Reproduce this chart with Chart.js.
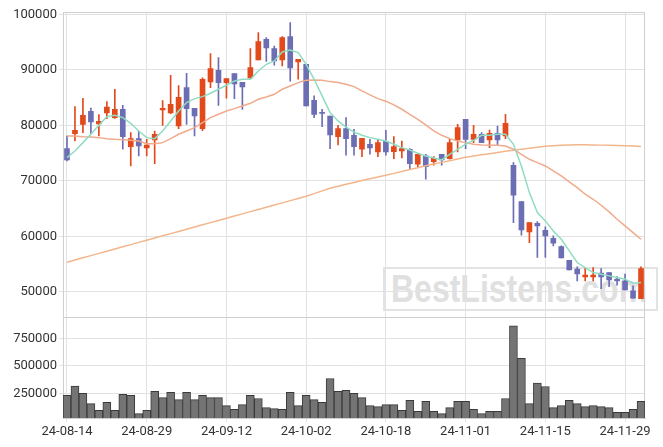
<!DOCTYPE html>
<html>
<head>
<meta charset="utf-8">
<script src="https://cdn.jsdelivr.net/npm/chart.js@4.4.0/dist/chart.umd.min.js"></script>
<style>
  html, body { margin: 0; padding: 0; background: #fff; }
  #wrap { position: relative; width: 663px; height: 447px; }
  #markBox {
    position: absolute; left: 383px; top: 267px; width: 271px; height: 40px;
    border: 2px solid #e3e3e3;
  }
  #markText {
    position: absolute; left: 391px; top: 275px; white-space: nowrap;
    font: bold 32px "Liberation Sans", Arial, sans-serif; line-height: 32px;
    color: #e0e0e0; transform: scaleY(1.22); transform-origin: 0 27px;
  }
  canvas { position: absolute; left: 0; top: 0; }
</style>
</head>
<body>
<div id="wrap">
  <div id="markBox"></div>
  <div id="markText">BestListens.com</div>
  <canvas id="myChart" width="663" height="447"></canvas>
</div>
<script>
// Trading days shown on the x axis
const dates = [
  '24-08-14','24-08-16','24-08-19','24-08-20','24-08-21','24-08-22','24-08-23','24-08-26','24-08-27','24-08-28',
  '24-08-29','24-08-30','24-09-02','24-09-03','24-09-04','24-09-05','24-09-06','24-09-09','24-09-10','24-09-11',
  '24-09-12','24-09-13','24-09-19','24-09-20','24-09-23','24-09-24','24-09-25','24-09-26','24-09-27','24-09-30',
  '24-10-02','24-10-04','24-10-07','24-10-08','24-10-10','24-10-11','24-10-14','24-10-15','24-10-16','24-10-17',
  '24-10-18','24-10-21','24-10-22','24-10-23','24-10-24','24-10-25','24-10-28','24-10-29','24-10-30','24-10-31',
  '24-11-01','24-11-04','24-11-05','24-11-06','24-11-07','24-11-08','24-11-11','24-11-12','24-11-13','24-11-14',
  '24-11-15','24-11-18','24-11-19','24-11-20','24-11-21','24-11-22','24-11-25','24-11-26','24-11-27','24-11-28',
  '24-11-29','24-12-02','24-12-03'
];

// y axis ticks
const priceTicks = [50000, 60000, 70000, 80000, 90000, 100000];
const volumeTicks = [250000, 500000, 750000];

// OHLC
const openPrices = [
  75810,78510,80190,82530,80250,82230,81390,82890,76170,77610,
  75930,77370,82770,82230,79890,86800,83070,79410,87820,89920,
  87700,89320,87760,88540,91780,95500,93820,91780,95980,91420,
  91000,84520,82290,81690,77970,79410,78210,75690,76590,75210,
  77130,75270,75390,75690,72990,74490,73470,74790,74010,77370,
  81090,77490,78390,77370,78570,78090,72810,66270,60810,62370,
  61110,59670,58170,55710,54090,52710,52710,53370,53490,52290,
  51990,50180,48800
];
const highPrices = [
  78090,83370,84880,83130,81930,84270,86500,83610,78690,78990,
  77490,78990,84460,89020,87160,89380,83070,88540,92920,92200,
  88420,89320,87760,93820,96700,95800,94300,95980,98500,91900,
  91000,85300,82890,81690,80010,81390,79290,77670,77490,77490,
  79110,77970,77190,75810,74790,74790,74370,74790,77490,80190,
  81090,80010,78690,79170,79890,81990,73290,66270,62490,62670,
  61710,60090,58290,55710,54510,54390,54390,54210,53490,52770,
  53190,51080,54510
];
const lowPrices = [
  73590,77190,78690,78570,78090,81210,81270,75690,72690,74490,
  74490,73110,80010,82110,79410,80190,78090,79050,86800,83610,
  84880,84820,82890,88420,91780,91540,90820,90700,87940,88300,
  83490,81390,79770,75810,76470,74610,74610,74370,74790,74370,
  74610,74010,74130,72090,72570,70290,72810,72810,73890,75210,
  75810,76890,76890,75990,76410,77610,62490,60210,58890,56190,
  56190,58290,56130,53970,51990,51990,51990,50600,50960,51200,
  50360,48860,48800
];
const closePrices = [
  73770,79110,81810,80610,80730,83310,82890,77970,77610,76290,
  76470,78390,83070,83790,85060,83010,81690,88300,90220,87700,
  88420,87460,86920,90400,95080,93940,91600,95800,90340,91900,
  83490,81990,82170,78270,79410,77610,76170,77670,75930,76890,
  75210,76170,75810,73110,74790,72570,74070,73770,76890,79590,
  77490,78390,76890,78570,77370,80370,67410,61170,62490,61890,
  60090,58770,56130,53970,53250,53010,53010,52710,52170,51990,
  50360,48860,54210
];

// moving averages as plotted
const ma5 = [
  74190,75390,76890,78390,80010,81570,81810,81390,80370,78990,
  77790,77610,78990,80790,82590,84100,84820,85180,85780,86500,
  87220,88000,88300,88300,89800,91000,91600,93220,93580,93100,
  91000,88300,85300,82300,80800,79700,78800,78210,77790,77490,
  77190,76590,75990,75570,74970,74490,74130,73770,74790,75690,
  76600,77300,78210,78210,78390,78390,76590,72690,67890,64290,
  62790,60990,59490,57390,55290,54390,53490,53190,52890,52590,
  52290,51570,51690
];
const ma20 = [
  78090,78090,77970,77910,77790,77610,77490,77430,77310,77190,
  76710,76710,76890,77610,78390,78990,79590,80490,81390,81990,
  82590,83010,83490,83970,84700,85120,85600,86500,87100,87700,
  88120,88180,88120,87880,87700,87400,86980,86200,85480,84820,
  84340,83680,82900,81990,81090,80070,78990,78210,77610,77190,
  76890,76590,76470,76410,76410,76290,75690,74790,73890,73290,
  72690,71790,70890,69810,68790,67590,66690,65610,64410,63090,
  61890,60690,59490
];
const ma60 = [
  55350,55750,56140,56540,56940,57330,57730,58120,58520,58920,
  59310,59710,60100,60500,60890,61290,61690,62080,62480,62870,
  63270,63670,64060,64460,64850,65250,65650,66040,66440,66830,
  67230,67700,68200,68670,69030,69390,69720,70050,70370,70690,
  71010,71350,71700,72040,72380,72720,73030,73330,73640,73950,
  74250,74470,74690,74900,75120,75330,75510,75690,75870,76050,
  76230,76320,76400,76460,76500,76500,76480,76440,76400,76360,
  76320,76270,76200
];

const volumes = [
  235000,317000,253000,159000,98000,171000,98000,244000,235000,68000,
  98000,271000,214000,262000,195000,262000,195000,235000,214000,214000,
  141000,108000,150000,235000,205000,123000,114000,108000,262000,141000,
  235000,195000,171000,386000,271000,280000,253000,214000,141000,132000,
  150000,150000,98000,189000,89000,180000,89000,68000,123000,180000,
  180000,108000,68000,89000,89000,205000,862000,568000,159000,344000,
  314000,123000,141000,189000,159000,132000,141000,132000,123000,80000,
  80000,108000,180000
];

const upColor = '#e2491b';
const downColor = '#6c6eb4';
const gridColor = '#e2e2e2';
const labelFont = { family: 'Roboto', size: 13 };

let bodies = dates.map((d, i) => [openPrices[i], closePrices[i]]);
let wicks = dates.map((d, i) => [lowPrices[i], highPrices[i]]);
let candleColors = dates.map((d, i) => closePrices[i] >= openPrices[i] ? upColor : downColor);

// frame around the plot + line between price and volume panels
const framePlugin = {
  id: 'frame',
  beforeDatasetsDraw(chart) {
    const { ctx, chartArea: a, scales } = chart;
    ctx.save();
    ctx.strokeStyle = '#cfcfcf';
    ctx.lineWidth = 1;
    ctx.strokeRect(Math.round(a.left) + 0.5, Math.round(a.top) + 0.5, Math.round(a.width) - 1, Math.round(a.height) - 1);
    const yb = Math.round(scales.y.bottom) + 0.5;
    ctx.beginPath();
    ctx.moveTo(a.left, yb);
    ctx.lineTo(a.right, yb);
    ctx.stroke();
    ctx.restore();
  }
};

const lineDefaults = { type: 'line', yAxisID: 'y', borderWidth: 1.5, pointRadius: 0, fill: false, order: 0 };

new Chart(document.getElementById('myChart'), {
  type: 'bar',
  data: {
    labels: dates,
    datasets: [
      { ...lineDefaults, label: 'MA5', data: ma5, borderColor: '#8fdcc3' },
      { ...lineDefaults, label: 'MA20', data: ma20, borderColor: '#f0aa8c' },
      { ...lineDefaults, label: 'MA60', data: ma60, borderColor: '#f3b68c' },
      { label: 'body', data: bodies, yAxisID: 'y', backgroundColor: candleColors,
        barThickness: 5, minBarLength: 1, grouped: false, order: 1 },
      { label: 'wick', data: wicks, yAxisID: 'y', backgroundColor: candleColors,
        barThickness: 1, grouped: false, order: 2 },
      { label: 'volume', data: volumes, yAxisID: 'yVol', backgroundColor: '#747474',
        borderColor: '#3a3a3a', borderWidth: 1, categoryPercentage: 1, barPercentage: 1,
        grouped: false, order: 3 }
    ]
  },
  options: {
    responsive: false,
    animation: false,
    layout: { padding: { top: 12, right: 18, left: 0, bottom: 0 } },
    plugins: { legend: { display: false }, tooltip: { enabled: false } },
    scales: {
      x: {
        grid: { offset: false, color: gridColor, tickLength: 4 },
        border: { color: '#cfcfcf' },
        afterBuildTicks: s => { s.ticks = s.ticks.filter(t => t.value % 10 === 0); },
        afterFit: s => { s.height = 29; },
        ticks: { autoSkip: false, maxRotation: 0, color: '#333', font: labelFont, padding: 2 }
      },
      yVol: {
        position: 'left', stack: 'panels', stackWeight: 1,
        min: 29000, max: 947000,
        afterBuildTicks: s => { s.ticks = volumeTicks.map(v => ({ value: v })); },
        afterFit: s => { s.width = 63; },
        grid: { color: gridColor, tickLength: 4 },
        border: { color: '#cfcfcf' },
        ticks: { autoSkip: false, color: '#333', font: labelFont, padding: 2, callback: v => String(v) }
      },
      y: {
        position: 'left', stack: 'panels', stackWeight: 3,
        min: 45570, max: 100420,
        afterBuildTicks: s => { s.ticks = priceTicks.map(v => ({ value: v })); },
        afterFit: s => { s.width = 63; },
        grid: { color: gridColor, tickLength: 4 },
        border: { color: '#cfcfcf' },
        ticks: { autoSkip: false, color: '#333', font: labelFont, padding: 2, callback: v => String(v) }
      }
    }
  },
  plugins: [framePlugin]
});
</script>
</body>
</html>
